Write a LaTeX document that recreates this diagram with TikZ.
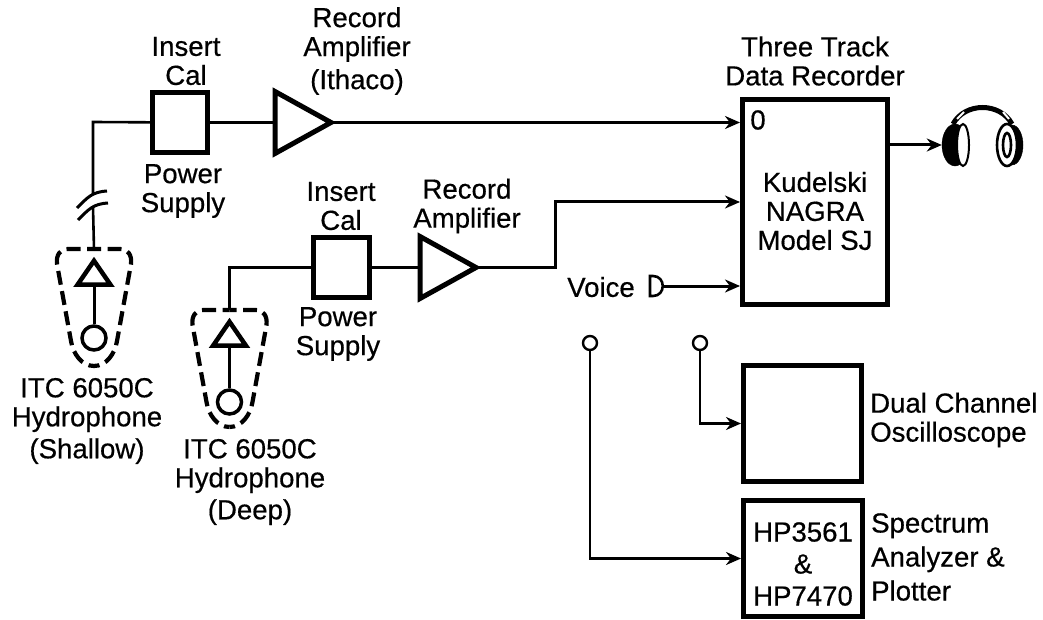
\documentclass[tikz,border=0pt]{standalone}
\usepackage{fontspec}
\setmainfont{Liberation Sans}[RawFeature={embolden=0.5}]
\usetikzlibrary{positioning,arrows.meta,shapes.geometric}

\begin{document}
\begin{tikzpicture}[x=1pt,y=-1pt,>={Stealth[length=15pt,width=13pt]},
  font=\fontsize{27.6}{29}\selectfont,
  wire/.style={line width=2.6pt},
  blockbox/.style={draw,line width=5pt,inner sep=0pt},
  amp/.style={draw,line width=5pt,isosceles triangle,isosceles triangle stretches,
    minimum height=56pt,minimum width=62pt,inner sep=0pt,outer sep=0pt},
  sensor/.style={draw,line width=4.5pt,isosceles triangle,isosceles triangle stretches,
    shape border rotate=90,minimum height=24pt,minimum width=33pt,inner sep=0pt},
  pin/.style={draw,circle,line width=2.4pt,minimum size=14pt,inner sep=0pt},
  label/.style={align=center,inner sep=0pt},
  side/.style={align=left,inner sep=0pt,anchor=west}]
  \useasboundingbox (0,0) rectangle (1043,620);
  % top channel
  \node[blockbox,minimum width=55pt,minimum height=60pt] at (180,122.5) (cal1) {};
  \node[amp,right=65pt of cal1] (amp1) {};
  \node[blockbox,minimum width=145pt,minimum height=205pt] at (815,202) (kud) {};
  \coordinate (top1) at (93,122);
  % bottom channel
  \node[blockbox,minimum width=56pt,minimum height=60pt] at (341.5,267.5) (cal2) {};
  \node[amp,right=48pt of cal2] (amp2) {};
  \coordinate (mic) at (662,286);
  % instruments
  \node[blockbox,minimum width=118pt,minimum height=116pt] at (802.5,423.5) (osc) {};
  \node[blockbox,minimum width=119pt,minimum height=116pt] at (803,558.5) (hp) {};
  \node[pin] at (590,343) (p1) {};
  \node[pin] at (700,343) (p2) {};
  % hydrophones
  \foreach \n/\x/\y/\c in {s/94/249/338,d/229.5/310/402}{
    \coordinate (top\n) at (\x,\y);
    \node[sensor,anchor=south] at (\x,\y+38) (tri\n) {};
    \node[pin,line width=3.5pt,minimum size=24pt] at (\x,\c) (cir\n) {};
    \draw[line width=3pt] (tri\n.south) -- (cir\n);
    \foreach \s in {-1,1}
      \draw[line width=4.2pt,dash pattern=on 14pt off 6.5pt,dash phase=7pt]
        (\x,\y) -- (\x+\s*26,\y) .. controls (\x+\s*34,\y) and (\x+\s*38,\y+6) .. (\x+\s*37,\y+15)
        -- (\x+\s*23,\y+92) .. controls (\x+\s*21,\y+105) and (\x+\s*12,\y+117) .. (\x,\y+117);
  }
  % cable break
  \coordinate (brk1) at (93,195);
  \coordinate (brk2) at (93,207);
  \draw[line width=3pt] (77,208) .. controls (88,197) and (92,192) .. (107,191);
  \draw[line width=3pt] (78,220) .. controls (89,209) and (93,204) .. (108,203);
  % connectors
  \draw[wire] (tops) -- (brk2);
  \draw[wire] (brk1) -- (top1) -- (cal1);
  \draw[line width=3pt] (cal1) -- (amp1);
  \draw[wire,->] (amp1.east) -- (amp1.east -| kud.west);
  \draw[wire] (topd) |- (cal2);
  \draw[line width=3pt] (cal2) -- (amp2);
  \coordinate (turn) at (555,202);
  \draw[line width=3pt,->] (amp2.east) -| (turn) -- (turn -| kud.west);
  \draw[line width=3pt,->] (mic) -- (mic -| kud.west);
  \draw[wire,->] (p2) |- (osc);
  \draw[wire,->] (p1) |- (hp);
  % voice plug
  \draw[line width=2.6pt,fill=white] (650,276) -- (653,276) .. controls (666,276) and (666,296) .. (653,296) -- (650,296) -- cycle;
  % headphones
  \node[draw,ellipse,fill=black,minimum width=26pt,minimum height=42pt,inner sep=0pt] at (955,145) (cupl) {};
  \node[draw,ellipse,fill=black,minimum width=22pt,minimum height=40pt,inner sep=0pt] at (1012,145) (cupr) {};
  \draw[line width=5pt] (953,124) .. controls (965,102) and (1000,102) .. (1012,124);
  \draw[white,line width=2pt] (957,119) -- (964,112);
  \draw[white,line width=2pt] (1003,112) -- (1009,119);
  \draw[line width=2pt,fill=white] (963,145) ellipse (6 and 21);
  \draw[line width=2.6pt,fill=white] (1007,145) ellipse (10 and 21);
  \draw[line width=2.6pt] (1007,145) ellipse (4 and 12);
  \draw[line width=3pt,->] (kud.east |- cupl) -- (cupl);
  % labels
  \node[label] at (186,61) (t1) {Insert\\Cal};
  \node[label] at (183,191) (t2) {Power\\Supply};
  \node[label] at (357,51) (t3) {Record\\Amplifier\\[4pt](Ithaco)};
  \node[label] at (341,206) (t4) {Insert\\Cal};
  \node[label] at (338,334) (t5) {Power\\Supply};
  \node[label] at (467,206) (t6) {Record\\Amplifier};
  \node[label] at (815,61) (t7) {Three Track\\Data Recorder};
  \node[label] at (815,211) (t8) {Kudelski\\NAGRA\\Model SJ};
  \node[inner sep=0pt] at (758,120) (t9) {0};
  \node[label] at (601,287) (t10) {Voice};
  \node[label] at (87,421) (t11) {ITC 6050C\\Hydrophone\\[3pt](Shallow)};
  \node[label] at (250,482) (t12) {ITC 6050C\\Hydrophone\\[3pt](Deep)};
  \node[side] at (870,420) (t13) {Dual Channel\\Oscilloscope};
  \node[side] at (871,557) (t14) {Spectrum\\[5pt]Analyzer \&\\[5pt]Plotter};
  \node[label] at (803,564) (t15) {HP3561\\[3pt]\&\\[3pt]HP7470};
\end{tikzpicture}
\end{document}
